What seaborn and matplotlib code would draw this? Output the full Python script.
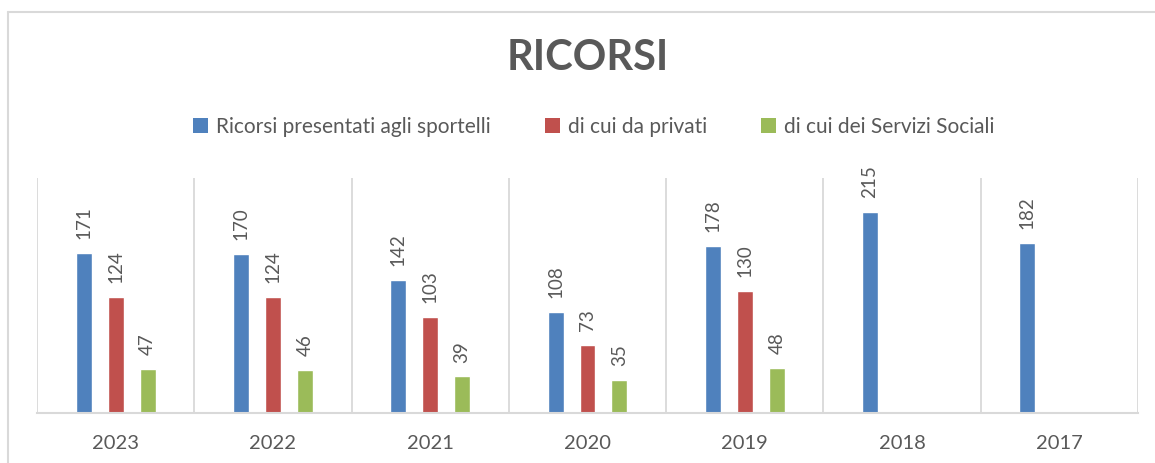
import matplotlib
matplotlib.use("Agg")
import matplotlib.pyplot as plt
import seaborn as sns
import pandas as pd
from matplotlib.lines import Line2D
from matplotlib.patches import Patch

years = ["2023", "2022", "2021", "2020", "2019", "2018", "2017"]
presentati = [171, 170, 142, 108, 178, 215, 182]
privati = [124, 124, 103, 73, 130, None, None]
sociali = [47, 46, 39, 35, 48, None, None]
series_names = ["Ricorsi presentati agli sportelli", "di cui da privati", "di cui dei Servizi Sociali"]
colors = ["#4F81BD", "#C0504D", "#9BBB59"]
title = "RICORSI"

rows = []
for name, vals in zip(series_names, [presentati, privati, sociali]):
    for y, v in zip(years, vals):
        if v is not None:
            rows.append({"anno": y, "serie": name, "valore": v})
df = pd.DataFrame(rows)

sns.set_theme(style="white")
plt.rcParams["font.family"] = ["Lato", "DejaVu Sans"]

fig = plt.figure(figsize=(11.55, 4.63), dpi=100)
ax = fig.add_axes([37/1155, 1-413/463, (1138-37)/1155, (413-178)/463])

sns.barplot(data=df, x="anno", y="valore", hue="serie", order=years,
            hue_order=series_names, palette=colors, width=0.61, gap=0.5,
            dodge=True, ax=ax, legend=False, saturation=1, errorbar=None)

txt = "#595959"
for cont in ax.containers:
    ax.bar_label(cont, labels=[f"{int(b.get_height())}" for b in cont], rotation=90,
                 padding=10, fontsize=13.5, color=txt)

ax.set_ylim(0, 251)
ax.set_xlim(-0.5, len(years) - 0.5)
ax.set_xlabel("")
ax.set_ylabel("")
ax.set_yticks([])
for s in ["top", "right", "left"]:
    ax.spines[s].set_visible(False)
ax.spines["bottom"].set_color("#D9D9D9")
ax.spines["bottom"].set_linewidth(1.5)
for k in range(len(years) + 1):
    ax.axvline(k - 0.5, color="#D9D9D9", lw=1.3, zorder=0)
ax.tick_params(axis="x", length=0, pad=16, labelsize=14.5, labelcolor=txt)

handles = [Patch(facecolor=c, edgecolor="none") for c in colors]
fig.legend(handles, series_names, loc="center", bbox_to_anchor=(594/1155, 1-127/463),
           ncol=3, frameon=False, fontsize=15, labelcolor=txt,
           handlelength=0.7, handleheight=0.7, handletextpad=0.4, columnspacing=2.6)

fig.text(588/1155, 1-58/463, title, ha="center", va="center", fontsize=30,
         fontweight="bold", color=txt)

fig.add_artist(Line2D([8/1155, 8/1155], [0, 1-12/463], color="#D9D9D9", lw=1.5,
                      transform=fig.transFigure))
fig.add_artist(Line2D([8/1155, 1], [1-12/463, 1-12/463], color="#D9D9D9", lw=1.5,
                      transform=fig.transFigure))

fig.savefig("out.png", dpi=100)
